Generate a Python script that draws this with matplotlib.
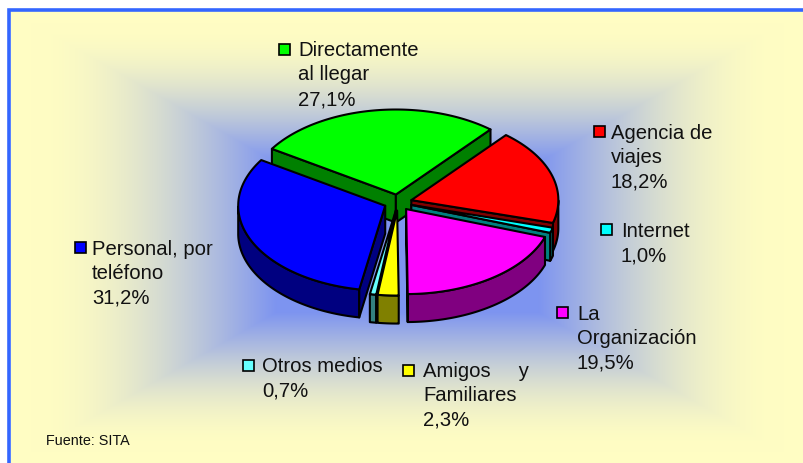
import numpy as np
import matplotlib
matplotlib.use('Agg')
import matplotlib.pyplot as plt

plt.rcParams['font.family'] = ['Liberation Sans', 'DejaVu Sans']

# Datos del grafico
nombres = ['Directamente\nal llegar', 'Agencia de\nviajes', 'Internet', 'La\nOrganización',
           'Amigos     y\nFamiliares', 'Otros medios', 'Personal, por\nteléfono']
valores = [27.1, 18.2, 1.0, 19.5, 2.3, 0.7, 31.2]
etiquetas = ['27,1%', '18,2%', '1,0%', '19,5%', '2,3%', '0,7%', '31,2%']
colores = ['#00ff00', '#ff0000', '#00ffff', '#ff00ff', '#ffff00', '#66ffff', '#0000ff']
oscuros = ['#008000', '#800000', '#008080', '#800080', '#808000', '#338080', '#000080']

# posicion de cada etiqueta: cuadrito y texto
pos_cuadro = [(285, 50), (600, 132), (607, 230), (563, 313), (409, 371), (249, 366), (81, 248)]
pos_texto = [(298, 49), (611, 132), (621, 230), (577, 313), (423, 370), (262, 365), (92, 248)]

# geometria de la tarta
cx, cy = 398, 203.5
rx, ry = 147, 85
prof = 28
explode = 0.095
inicio = 147.5
orden = [0, 1, 2, 6, 5, 4, 3]

fig = plt.figure(figsize=(8.04, 4.64), dpi=100)
ax = fig.add_axes([0, 0, 1, 1])
ax.axis('off')

# Fondo con degradado rectangular
xx, yy = np.meshgrid(np.arange(11, 804), np.arange(12, 464))
t = np.maximum(np.abs(xx - 407) / 396, np.abs(yy - 238) / 226)
t = np.clip((t - 0.33) / 0.62, 0, 1)
t = np.sin(t * np.pi / 2)[..., None]
azul = np.array([125, 148, 240]) / 255
amarillo = np.array([255, 253, 195]) / 255
ax.imshow(azul * (1 - t) + amarillo * t, extent=(11, 804, 464, 12), aspect='auto', zorder=0)
ax.set_xlim(0, 804)
ax.set_ylim(464, 0)
ax.plot([9.5, 9.5, 804], [464, 11, 11], color='#3366ff', lw=2.6, solid_joinstyle='miter', zorder=1)


def punto(x0, y0, ang):
    a = np.radians(ang)
    return x0 + rx * np.cos(a), y0 - ry * np.sin(a)


def cara(xs, ys, color, z):
    ax.fill(xs, ys, facecolor=color, edgecolor='black', lw=1.5, joinstyle='round', zorder=z)


# angulos de cada porcion, en sentido horario
acum = np.cumsum([0] + valores)
z = 2
for i in orden:
    a0 = inicio - acum[i] * 3.6
    a1 = inicio - acum[i + 1] * 3.6
    medio = np.radians((a0 + a1) / 2)
    x0 = cx + explode * rx * np.cos(medio)
    y0 = cy - explode * ry * np.sin(medio)

    # cara lateral exterior
    angs = np.linspace(a0, a1, 120)
    angs = angs[np.sin(np.radians(angs)) <= 0]
    if len(angs) > 1:
        xs, ys = punto(x0, y0, angs)
        cara(np.r_[xs, xs[::-1]], np.r_[ys, ys[::-1] + prof], oscuros[i], z)
    # paredes radiales visibles
    if np.sin(np.radians(a0 + 90)) < 0:
        xe, ye = punto(x0, y0, a0)
        cara([x0, xe, xe, x0], [y0, ye, ye + prof, y0 + prof], oscuros[i], z)
    if np.sin(np.radians(a1 - 90)) < 0:
        xe, ye = punto(x0, y0, a1)
        cara([x0, xe, xe, x0], [y0, ye, ye + prof, y0 + prof], oscuros[i], z)
    # tapa
    xs, ys = punto(x0, y0, np.linspace(a0, a1, 120))
    cara(np.r_[x0, xs], np.r_[y0, ys], colores[i], z)
    z += 1

# Etiquetas
for i in range(len(nombres)):
    qx, qy = pos_cuadro[i]
    ax.add_patch(plt.Rectangle((qx - 5.5, qy - 5.5), 11, 11, facecolor=colores[i],
                               edgecolor='black', lw=1.2, zorder=30))
    lineas = nombres[i].split('\n') + [etiquetas[i]]
    for n, linea in enumerate(lineas):
        ax.text(pos_texto[i][0], pos_texto[i][1] + 7 + n * 24.5, linea, fontsize=14.6,
                color='#111111', ha='left', va='baseline', zorder=31)

ax.text(46, 445, 'Fuente: SITA', fontsize=10.4, color='#111111', ha='left', va='baseline', zorder=31)

plt.savefig('out.png', dpi=100)
plt.close()
